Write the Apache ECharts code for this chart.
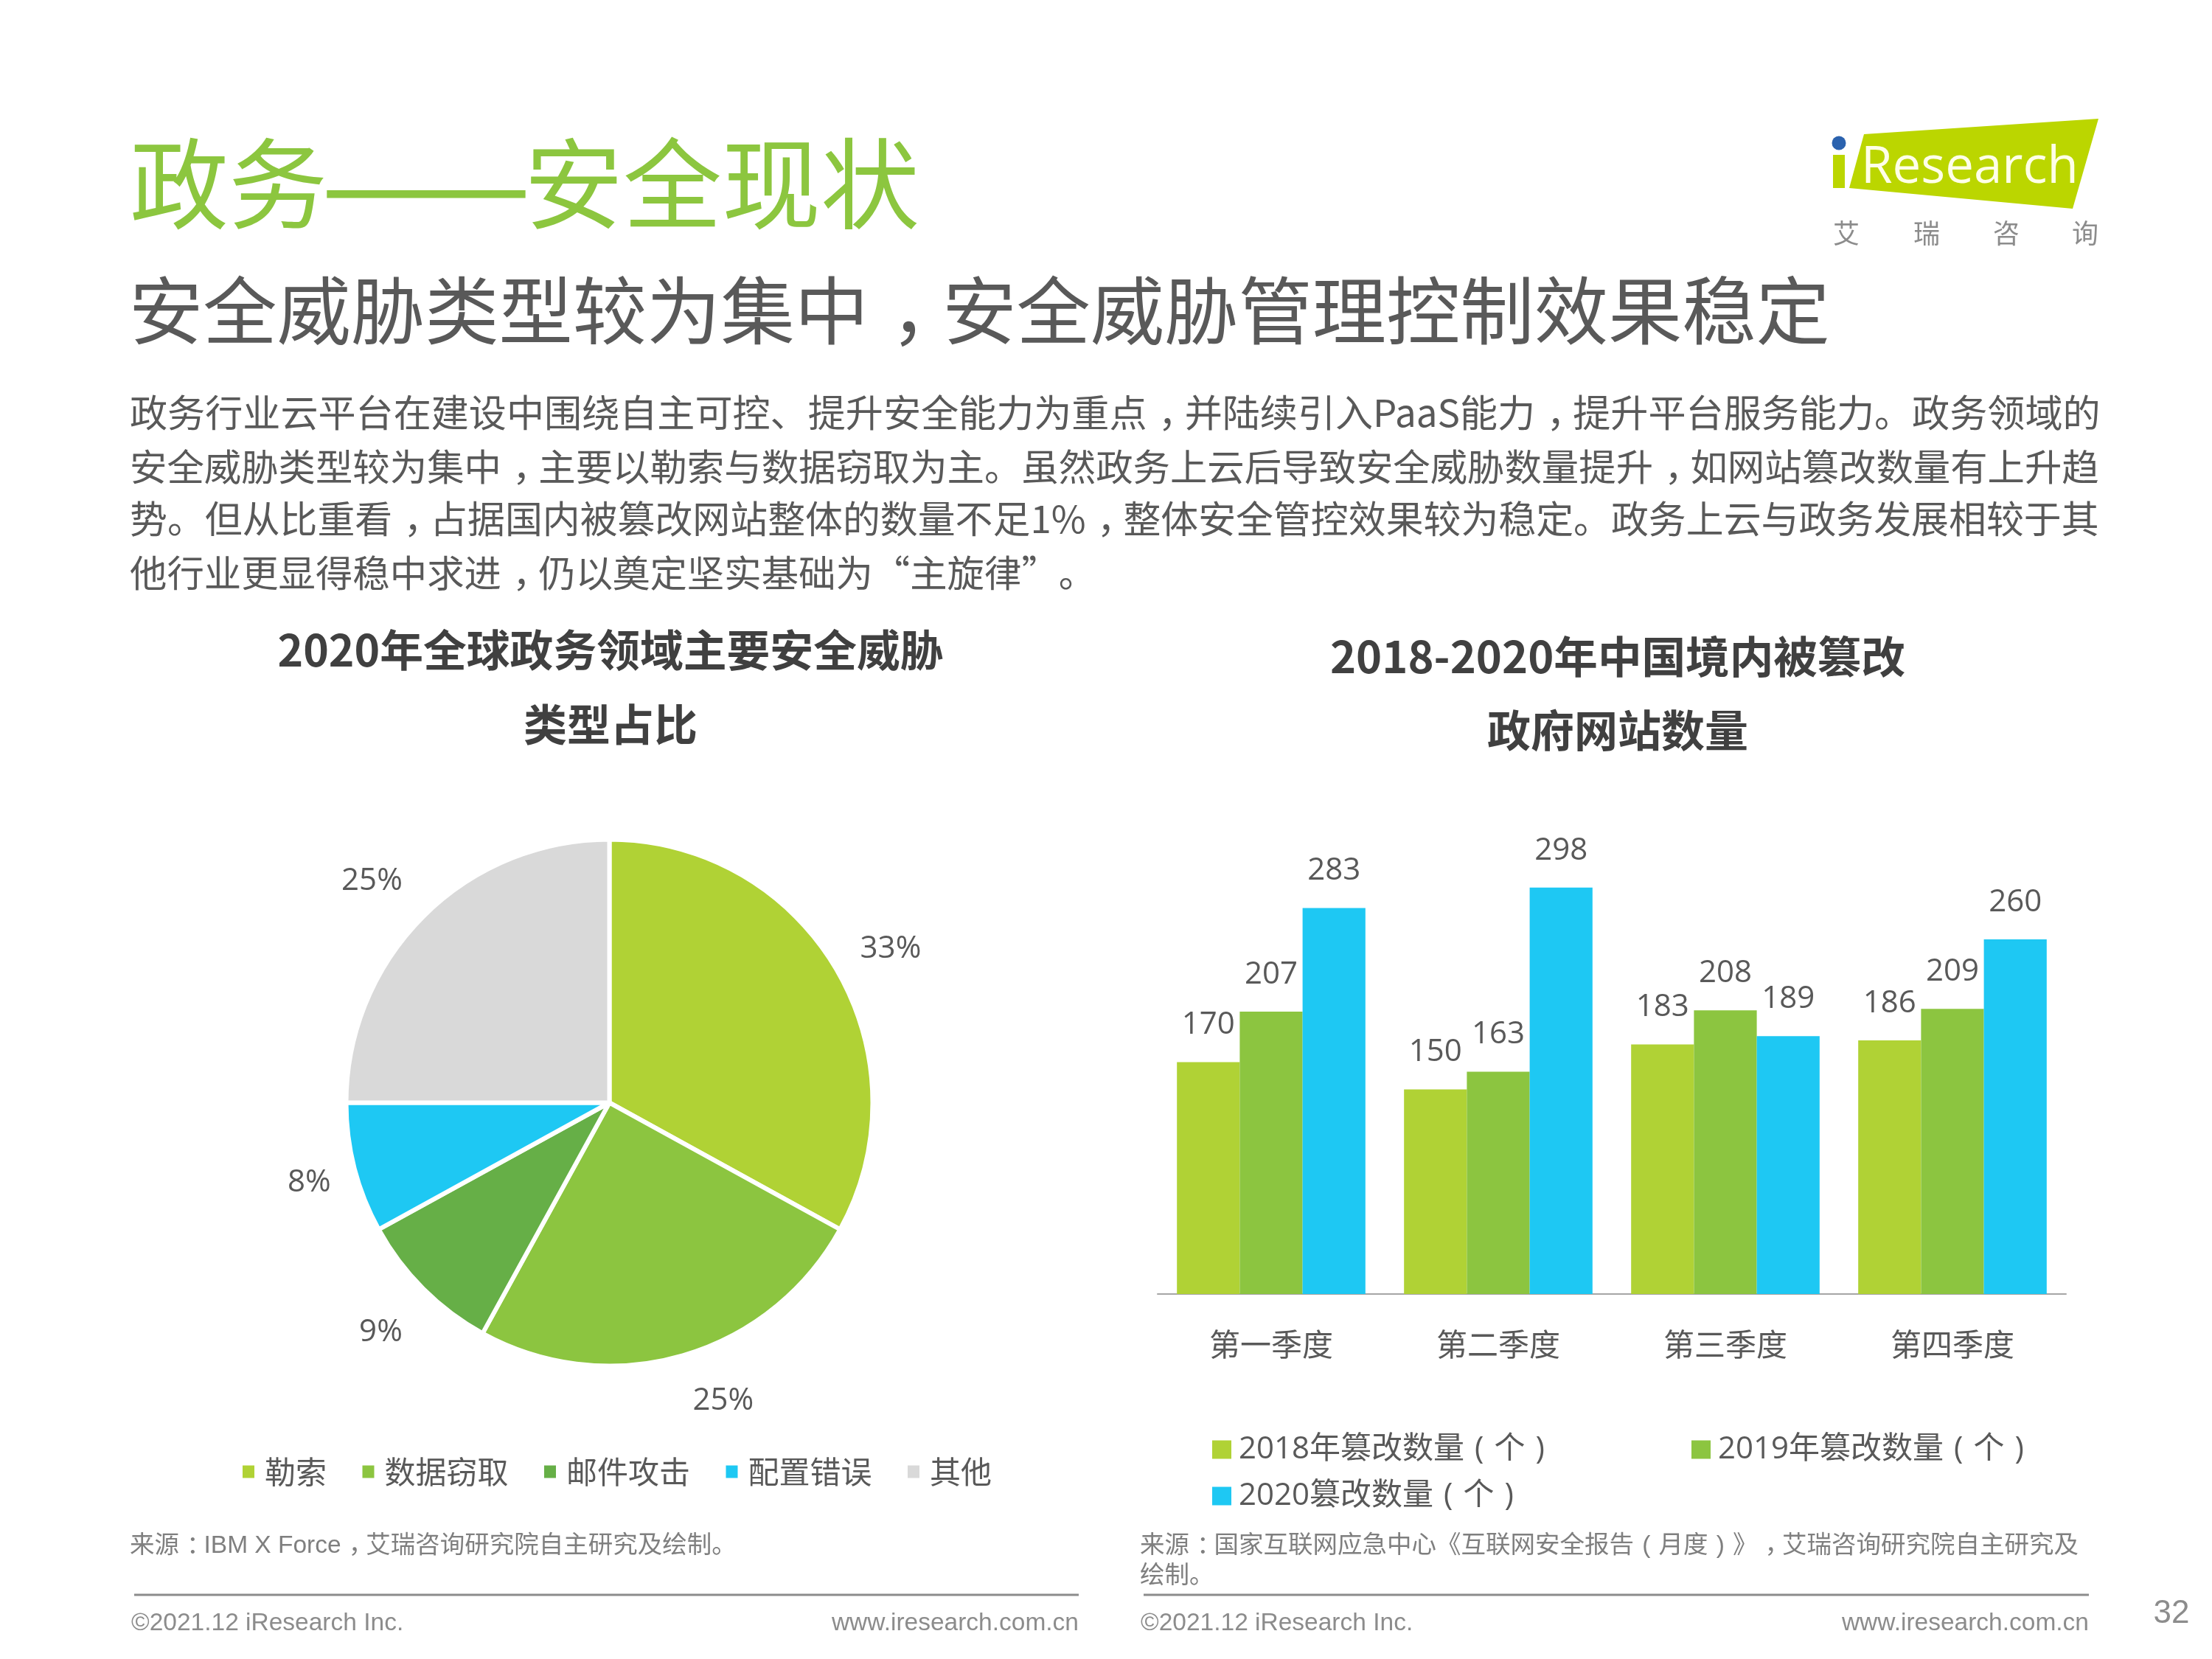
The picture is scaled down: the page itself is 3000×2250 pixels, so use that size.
<!DOCTYPE html>
<html>
<head>
<meta charset="utf-8">
<title>政务——安全现状</title>
<script src="https://cdn.jsdelivr.net/npm/echarts@6/dist/echarts.min.js"></script>
<style>
html, body { margin: 0; background: #fff; }
#main { width: 3000px; height: 2250px; }
</style>
</head>
<body>
<div id="main"></div>
<script>
"use strict";
// pie
let pieNames = ['勒索', '数据窃取', '邮件攻击', '配置错误', '其他'];
let pieValues = [33, 25, 9, 8, 25];
let pieColors = ['#B0D235', '#8CC540', '#66AF47', '#1EC8F3', '#D9D9D9'];
// bars
let quarters = ['第一季度', '第二季度', '第三季度', '第四季度'];
let seriesNames = ['2018年篡改数量\u2004(\u2004个\u2004)', '2019年篡改数量\u2004(\u2004个\u2004)', '2020篡改数量\u2004(\u2004个\u2004)'];
let values2018 = [170, 150, 183, 186];
let values2019 = [207, 163, 208, 209];
let values2020 = [283, 298, 189, 260];
// text
let bodyLines = [
    '政务行业云平台在建设中围绕自主可控、提升安全能力为重点，并陆续引入PaaS能力，提升平台服务能力。政务领域的',
    '安全威胁类型较为集中，主要以勒索与数据窃取为主。虽然政务上云后导致安全威胁数量提升，如网站篡改数量有上升趋',
    '势。但从比重看，占据国内被篡改网站整体的数量不足1%，整体安全管控效果较为稳定。政务上云与政务发展相较于其',
    '他行业更显得稳中求进，仍以奠定坚实基础为“主旋律”。'
];

const CJK = '"Noto Sans CJK SC"';
const NUM = '"Open Sans","Noto Sans CJK SC"';
const LATIN = '"Liberation Sans","Noto Sans CJK SC"';
const GREY = '#595959';
const FOOT = '#8C8C8C';

let myChart = echarts.init(document.getElementById('main'), null, { width: 3000, height: 2250 });

// full-width comma and colon sit in the middle of their cell in the original
function txt(x, y, text, size, color, align, family, weight) {
    let hasPunct = /[，：]/.test(text);
    let style = {
        x: x, y: y,
        text: hasPunct ? text.replace(/[，：]/g, '{c|$&}') : text,
        fontSize: size,
        fontFamily: family || CJK,
        fontWeight: weight || 'normal',
        fill: color || GREY,
        textAlign: align || 'left',
        textVerticalAlign: 'middle'
    };
    if (hasPunct) {
        style.rich = { c: { width: size * 0.7, padding: [0, 0, 0, size * 0.3] } };
    }
    return { type: 'text', silent: true, style: style };
}

function rule(x1, x2, y) {
    return {
        type: 'line', silent: true,
        shape: { x1: x1, y1: y, x2: x2, y2: y },
        style: { stroke: FOOT, lineWidth: 3 }
    };
}

let graphics = [
    txt(176, 249, '政务', 134, '#8CC63F'),
    txt(578, 246, '——', 170, '#8CC63F', 'center'),
    txt(711, 249, '安全现状', 134, '#8CC63F'),
    txt(175, 421, '安全威胁类型较为集中，安全威胁管理控制效果稳定', 100.3, GREY),
    txt(828, 882, '2020年全球政务领域主要安全威胁', 58.8, '#404040', 'center', CJK, 'bold'),
    txt(828, 983, '类型占比', 59, '#404040', 'center', CJK, 'bold'),
    txt(2194, 890, '2018-2020年中国境内被篡改', 59.6, '#404040', 'center', CJK, 'bold'),
    txt(2194, 991, '政府网站数量', 59, '#404040', 'center', CJK, 'bold'),
    txt(176, 2097, '来源：IBM X Force，艾瑞咨询研究院自主研究及绘制。', 33.5, '#7F7F7F', 'left', LATIN),
    txt(1546, 2097, '来源：国家互联网应急中心《互联网安全报告\u2004(\u2004月度\u2004)\u2004》，艾瑞咨询研究院自主研究及', 33.5, '#7F7F7F', 'left', LATIN),
    txt(1546, 2138, '绘制。', 33.5, '#7F7F7F', 'left', LATIN),
    rule(182, 1463, 2163),
    rule(1551, 2833, 2163),
    txt(178, 2202, '©2021.12 iResearch Inc.', 33.5, FOOT, 'left', LATIN),
    txt(1463, 2202, 'www.iresearch.com.cn', 33.5, FOOT, 'right', LATIN),
    txt(1547, 2202, '©2021.12 iResearch Inc.', 33.5, FOOT, 'left', LATIN),
    txt(2833, 2202, 'www.iresearch.com.cn', 33.5, FOOT, 'right', LATIN),
    txt(2945, 2189, '32', 44, FOOT, 'center', LATIN),
    // logo
    {
        type: 'polygon', silent: true,
        shape: { points: [[2528, 182], [2846, 161], [2811, 283], [2508, 255]] },
        style: { fill: '#BBD600' }
    },
    { type: 'rect', silent: true, shape: { x: 2486, y: 210, width: 16, height: 45 }, style: { fill: '#BBD600' } },
    { type: 'circle', silent: true, shape: { cx: 2494, cy: 194, r: 9.5 }, style: { fill: '#2B62AE' } },
    txt(2524, 228, 'Research', 69, '#FFFFE8', 'left', '"Open Sans"'),
    txt(2504, 316, '艾', 36, '#8C8C8C', 'center'),
    txt(2613, 316, '瑞', 36, '#8C8C8C', 'center'),
    txt(2721, 316, '咨', 36, '#8C8C8C', 'center'),
    txt(2828, 316, '询', 36, '#8C8C8C', 'center')
];
// the original is justified, so each line gets its own size
let bodyY = [560, 633, 704, 777];
let bodySize = [51.1, 50.4, 50.9, 50.4];
for (let i = 0; i < bodyLines.length; i++) {
    graphics.push(txt(176, bodyY[i], bodyLines[i], bodySize[i], GREY));
}

function barLegend(name, left, top) {
    return {
        data: [name], left: left, top: top, icon: 'rect', padding: 0,
        itemWidth: 26, itemHeight: 25, itemGap: 0,
        textStyle: { fontSize: 42, color: GREY, fontFamily: NUM, padding: [0, 0, 0, 5] },
        selectedMode: false
    };
}

function barSeries(name, values, color) {
    return {
        type: 'bar', name: name, data: values,
        barGap: 0, barCategoryGap: '17%',
        itemStyle: { color: color },
        label: { show: true, position: 'top', distance: 29, fontSize: 42, color: GREY, fontFamily: NUM }
    };
}

// nudges so the percentages sit where the original put them
let pieLabelShift = [[2, -11], [0, 33], [-2, 38], [2, 12], [-2, -27]];

let option = {
    animation: false,
    backgroundColor: '#fff',
    graphic: graphics,
    legend: [
        {
            data: pieNames, left: 327, top: 1975, icon: 'rect', padding: 0,
            itemWidth: 18, itemHeight: 19, itemGap: 46.5,
            textStyle: { fontSize: 42, color: GREY, fontFamily: CJK, padding: [0, 0, 0, 8] },
            selectedMode: false
        },
        barLegend(seriesNames[0], 1644, 1945),
        barLegend(seriesNames[1], 2294, 1945),
        barLegend(seriesNames[2], 1644, 2008)
    ],
    grid: { left: 1570, top: 1200, width: 1232, height: 555 },
    xAxis: {
        type: 'category',
        data: quarters,
        axisTick: { show: false },
        axisLine: { lineStyle: { color: '#A6A6A6', width: 2 } },
        axisLabel: { fontSize: 42, color: GREY, fontFamily: CJK, margin: 47 }
    },
    yAxis: { type: 'value', min: 0, max: 300, show: false, splitLine: { show: false } },
    series: [
        {
            type: 'pie',
            center: [826.5, 1495.5],
            radius: [0, 357],
            startAngle: 90,
            data: pieNames.map(function (n, i) {
                return { name: n, value: pieValues[i], itemStyle: { color: pieColors[i] } };
            }),
            itemStyle: { borderColor: '#fff', borderWidth: 6 },
            label: { formatter: '{c}%', fontSize: 42, color: GREY, fontFamily: NUM },
            labelLine: { show: false, length: 30, length2: 0 },
            labelLayout: function (params) {
                let s = pieLabelShift[params.dataIndex];
                return { dx: s[0], dy: s[1] };
            }
        },
        barSeries(seriesNames[0], values2018, pieColors[0]),
        barSeries(seriesNames[1], values2019, pieColors[1]),
        barSeries(seriesNames[2], values2020, pieColors[3])
    ]
};

myChart.setOption(option);
</script>
</body>
</html>
